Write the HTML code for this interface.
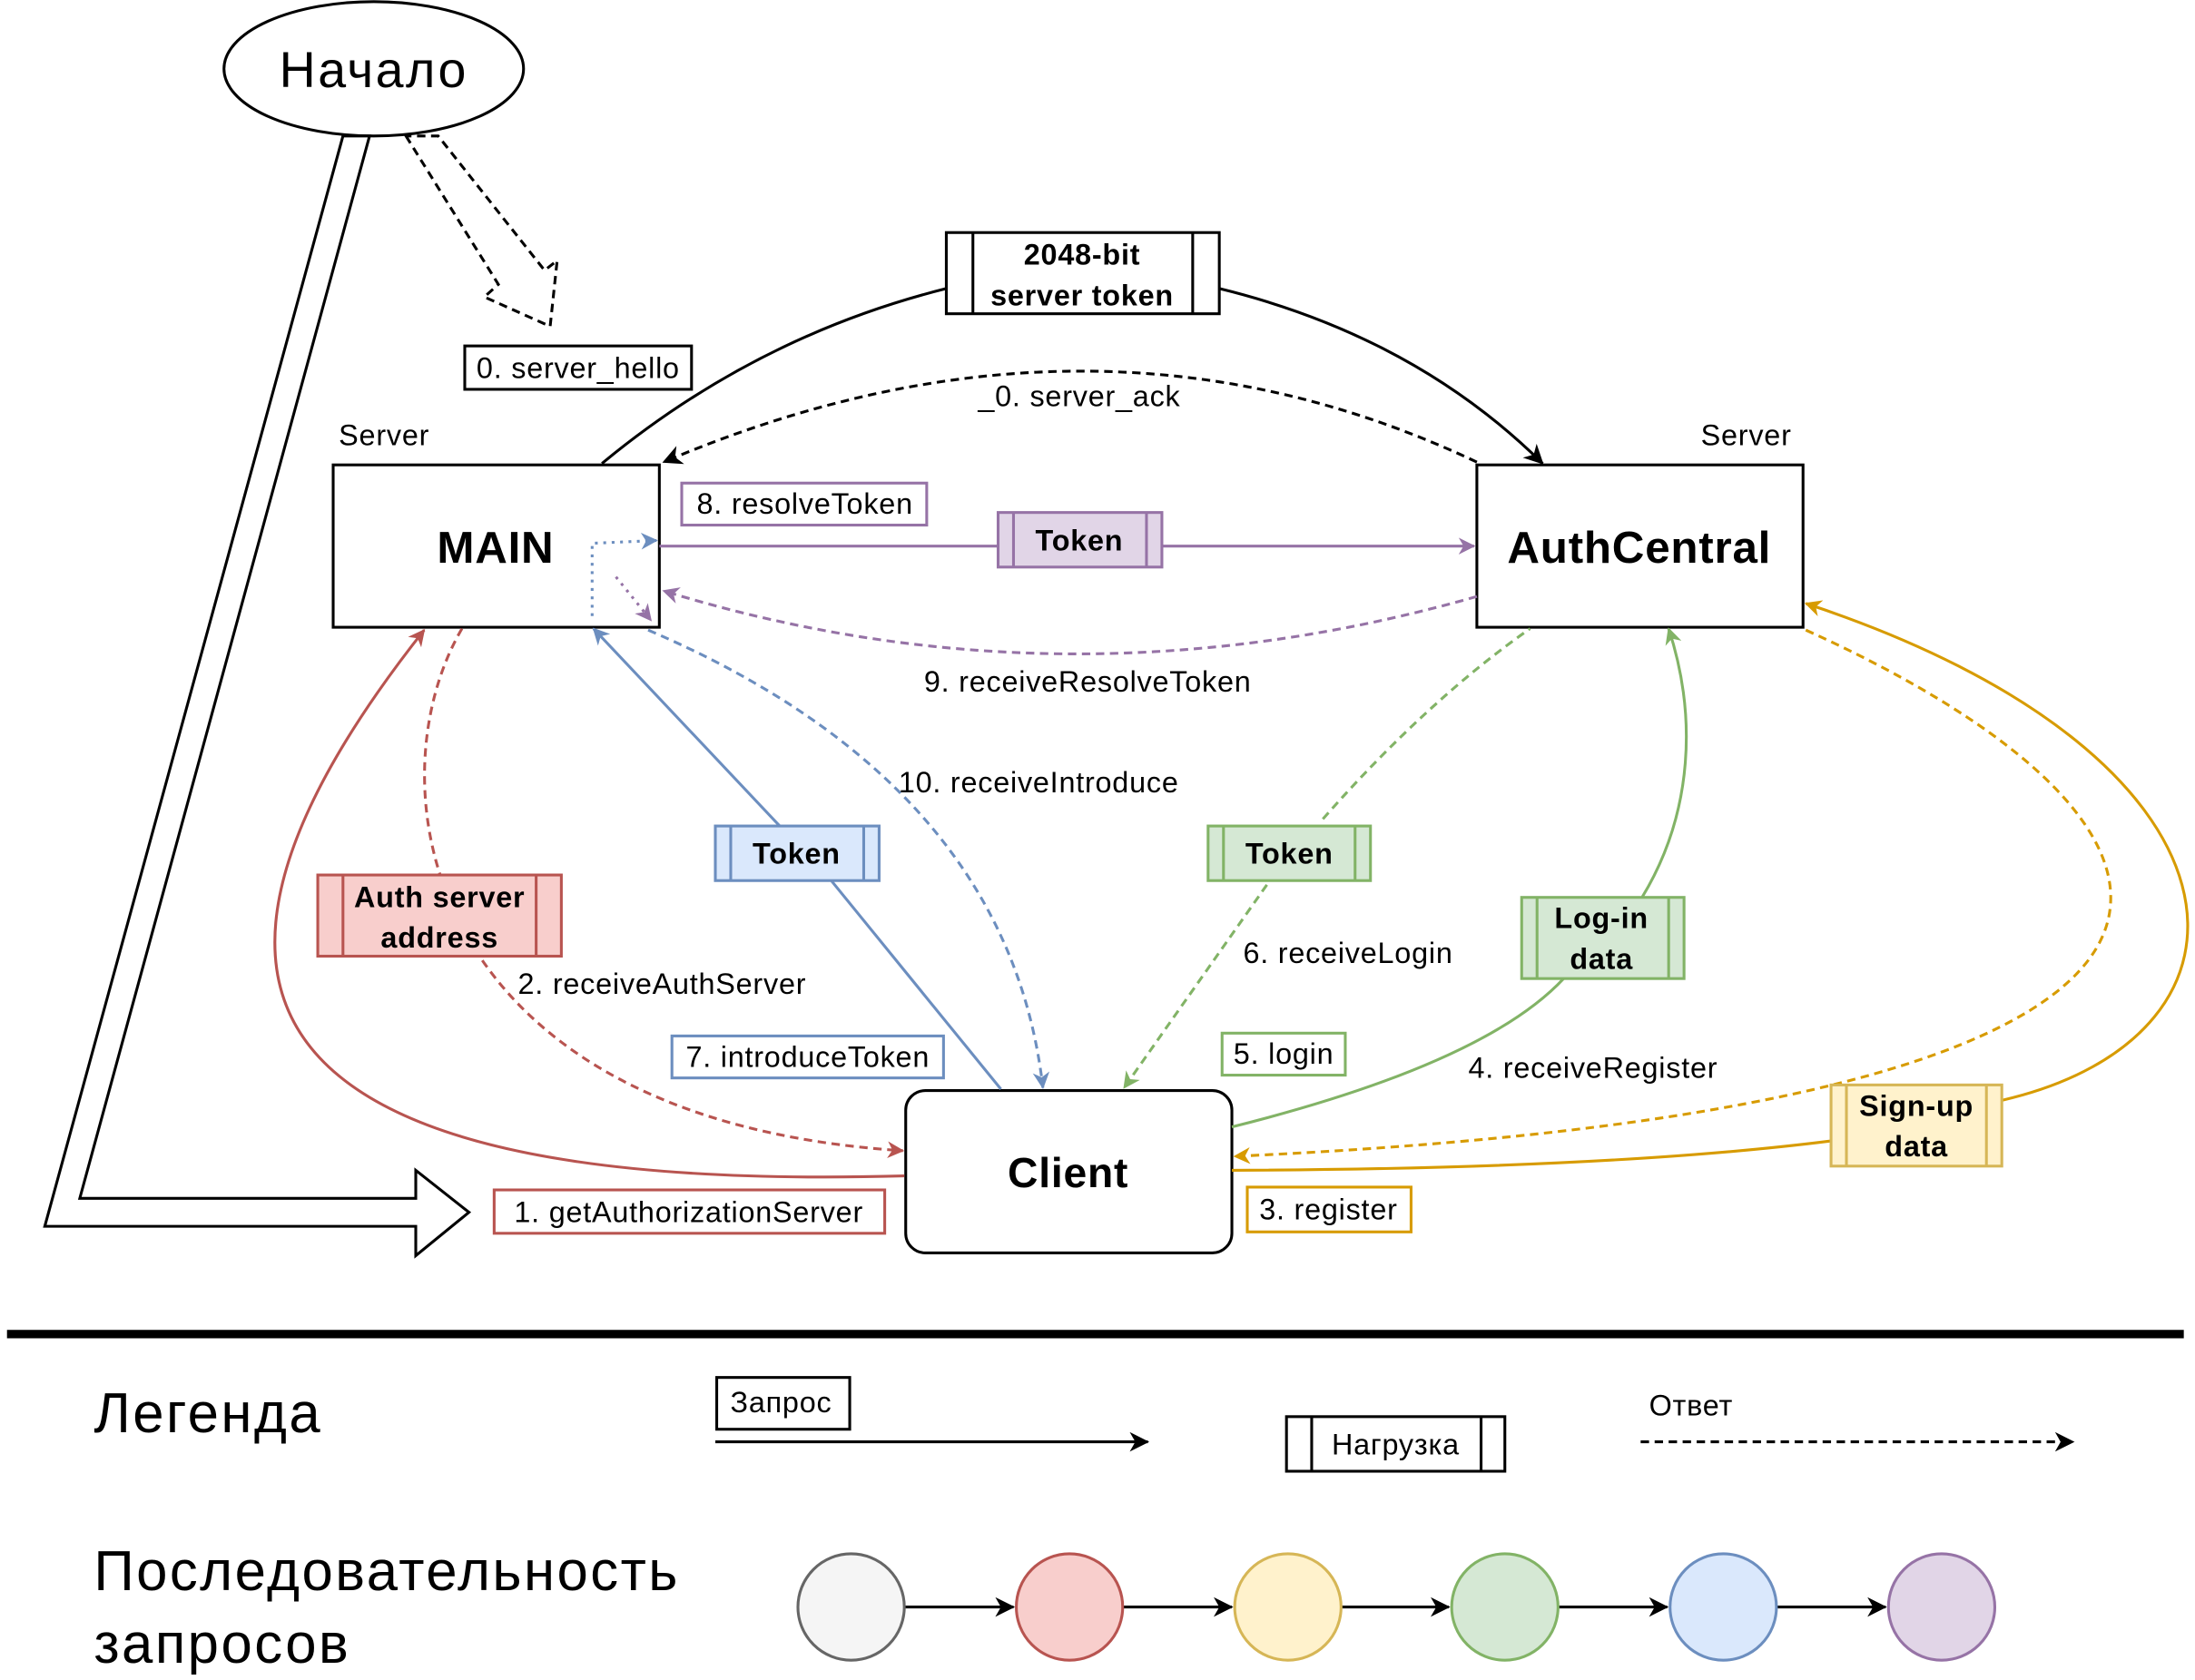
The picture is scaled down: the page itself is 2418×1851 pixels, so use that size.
<!DOCTYPE html>
<html><head><meta charset="utf-8"><style>
html,body{margin:0;padding:0;background:#fff;}
svg{display:block;}
text{font-family:"Liberation Sans",sans-serif;fill:#000;letter-spacing:0.5px;}
text.big{letter-spacing:1.6px;}
</style></head><body>
<svg width="2418" height="1851" viewBox="0 0 1568 1200" xmlns="http://www.w3.org/2000/svg">
<defs>
<marker id="ak" markerWidth="10" markerHeight="10" refX="9" refY="5" orient="auto" markerUnits="userSpaceOnUse"><path d="M0,0 L10,5 L0,10 L3,5z" fill="#000"/></marker>
<marker id="ar" markerWidth="12" markerHeight="12" refX="11" refY="6" orient="auto" markerUnits="userSpaceOnUse"><path d="M0,0 L12,6 L0,12 L3.5,6z" fill="#b85450"/></marker>
<marker id="ay" markerWidth="12" markerHeight="12" refX="11" refY="6" orient="auto" markerUnits="userSpaceOnUse"><path d="M0,0 L12,6 L0,12 L3.5,6z" fill="#d79b00"/></marker>
<marker id="ag" markerWidth="12" markerHeight="12" refX="11" refY="6" orient="auto" markerUnits="userSpaceOnUse"><path d="M0,0 L12,6 L0,12 L3.5,6z" fill="#82b366"/></marker>
<marker id="ab" markerWidth="12" markerHeight="12" refX="11" refY="6" orient="auto" markerUnits="userSpaceOnUse"><path d="M0,0 L12,6 L0,12 L3.5,6z" fill="#6c8ebf"/></marker>
<marker id="ap" markerWidth="12" markerHeight="12" refX="11" refY="6" orient="auto" markerUnits="userSpaceOnUse"><path d="M0,0 L12,6 L0,12 L3.5,6z" fill="#9673a6"/></marker>
<marker id="ak2" markerWidth="14" markerHeight="14" refX="13" refY="7" orient="auto" markerUnits="userSpaceOnUse"><path d="M0,0 L14,7 L0,14 L4,7z" fill="#000"/></marker>
</defs>

<ellipse cx="267" cy="49" rx="107" ry="48" fill="#fff" stroke="#000" stroke-width="2"/>
<text x="267" y="62" font-size="36" text-anchor="middle" class="big">Начало</text>
<polygon points="245,97 32,876 297,876 297,897 335,866 297,836 297,856 57,856 264,97" fill="#fff" stroke="#000" stroke-width="2"/>
<polygon points="290,97 356,203 346,212 393,233 398,186 389,193 313,97" fill="#fff" stroke="#000" stroke-width="2" stroke-dasharray="6,4"/>
<rect x="332" y="247" width="162" height="31" fill="#fff" stroke="#000" stroke-width="2"/>
<text x="413" y="270" font-size="21" text-anchor="middle">0. server_hello</text>

<path d="M430,331 Q540,240 676,206" fill="none" stroke="#000" stroke-width="2"/>
<path d="M871,206 Q1010,240 1102,331" fill="none" stroke="#000" stroke-width="2" marker-end="url(#ak2)"/>
<g>
<rect x="676" y="166" width="195" height="58" fill="#fff" stroke="#000" stroke-width="2"/>
<line x1="695" y1="166" x2="695" y2="224" stroke="#000" stroke-width="2"/><line x1="852" y1="166" x2="852" y2="224" stroke="#000" stroke-width="2"/>
<text x="773" y="189" font-size="21" font-weight="bold" text-anchor="middle">2048-bit</text>
<text x="773" y="218" font-size="21" font-weight="bold" text-anchor="middle">server token</text>
</g>
<path d="M1055,330 Q780,200 474,330" fill="none" stroke="#000" stroke-width="2" stroke-dasharray="6,4" marker-end="url(#ak2)"/>
<text x="771" y="290" font-size="21" text-anchor="middle">_0. server_ack</text>

<text x="242" y="318" font-size="21">Server</text>
<rect x="238" y="332" width="233" height="116" fill="#fff" stroke="#000" stroke-width="2"/>
<text x="354" y="402" font-size="32" font-weight="bold" text-anchor="middle">MAIN</text>
<text x="1215" y="318" font-size="21">Server</text>
<rect x="1055" y="332" width="233" height="116" fill="#fff" stroke="#000" stroke-width="2"/>
<text x="1171" y="402" font-size="32" font-weight="bold" text-anchor="middle">AuthCentral</text>
<rect x="647" y="779" width="233" height="116" rx="14" fill="#fff" stroke="#000" stroke-width="2"/>
<text x="763" y="848" font-size="30" font-weight="bold" text-anchor="middle">Client</text>

<line x1="471" y1="390" x2="1053" y2="390" stroke="#9673a6" stroke-width="2" marker-end="url(#ap)"/>
<rect x="487" y="345" width="175" height="30" fill="#fff" stroke="#9673a6" stroke-width="2"/>
<text x="575" y="367" font-size="21" text-anchor="middle">8. resolveToken</text>
<g>
<rect x="713" y="366" width="117" height="39" fill="#e1d5e7" stroke="#9673a6" stroke-width="2"/>
<line x1="724" y1="366" x2="724" y2="405" stroke="#9673a6" stroke-width="2"/><line x1="819" y1="366" x2="819" y2="405" stroke="#9673a6" stroke-width="2"/>
<text x="771" y="393" font-size="21" font-weight="bold" text-anchor="middle">Token</text></g>
<path d="M1055,426 Q760,510 474,422" fill="none" stroke="#9673a6" stroke-width="2" stroke-dasharray="6,4" marker-end="url(#ap)"/>
<text x="777" y="494" font-size="21" text-anchor="middle">9. receiveResolveToken</text>
<path d="M440,412 L465,443" fill="none" stroke="#9673a6" stroke-width="2" stroke-dasharray="2,4" marker-end="url(#ap)"/>
<path d="M423,440 L423,388 L469,386" fill="none" stroke="#6c8ebf" stroke-width="2" stroke-dasharray="2,4" marker-end="url(#ab)"/>

<path d="M715,778 L593,628" fill="none" stroke="#6c8ebf" stroke-width="2"/>
<path d="M557,590 L424,449" fill="none" stroke="#6c8ebf" stroke-width="2" marker-end="url(#ab)"/>
<g>
<rect x="511" y="590" width="117" height="39" fill="#dae8fc" stroke="#6c8ebf" stroke-width="2"/>
<line x1="522" y1="590" x2="522" y2="629" stroke="#6c8ebf" stroke-width="2"/><line x1="617" y1="590" x2="617" y2="629" stroke="#6c8ebf" stroke-width="2"/>
<text x="569" y="617" font-size="21" font-weight="bold" text-anchor="middle">Token</text></g>
<path d="M463,450 Q720,560 745,777" fill="none" stroke="#6c8ebf" stroke-width="2" stroke-dasharray="6,4" marker-end="url(#ab)"/>
<text x="742" y="566" font-size="21" text-anchor="middle">10. receiveIntroduce</text>
<rect x="480" y="740" width="194" height="30" fill="#fff" stroke="#6c8ebf" stroke-width="2"/>
<text x="577" y="762" font-size="21" text-anchor="middle">7. introduceToken</text>

<path d="M646,840 C280,850 50,770 303,450" fill="none" stroke="#b85450" stroke-width="2" marker-end="url(#ar)"/>
<path d="M330,449 C265,560 300,800 645,822" fill="none" stroke="#b85450" stroke-width="2" stroke-dasharray="6,4" marker-end="url(#ar)"/>
<g>
<rect x="227" y="625" width="174" height="58" fill="#f8cecc" stroke="#b85450" stroke-width="2"/>
<line x1="245" y1="625" x2="245" y2="683" stroke="#b85450" stroke-width="2"/><line x1="383" y1="625" x2="383" y2="683" stroke="#b85450" stroke-width="2"/>
<text x="314" y="648" font-size="21" font-weight="bold" text-anchor="middle">Auth server</text>
<text x="314" y="677" font-size="21" font-weight="bold" text-anchor="middle">address</text></g>
<text x="473" y="710" font-size="21" text-anchor="middle">2. receiveAuthServer</text>
<rect x="353" y="850" width="279" height="31" fill="#fff" stroke="#b85450" stroke-width="2"/>
<text x="492" y="873" font-size="21" text-anchor="middle">1. getAuthorizationServer</text>

<path d="M945,585 Q1020,500 1093,449" fill="none" stroke="#82b366" stroke-width="2" stroke-dasharray="6,4"/>
<path d="M905,632 L803,777" fill="none" stroke="#82b366" stroke-width="2" stroke-dasharray="6,4" marker-end="url(#ag)"/>
<g>
<rect x="863" y="590" width="116" height="39" fill="#d5e8d4" stroke="#82b366" stroke-width="2"/>
<line x1="874" y1="590" x2="874" y2="629" stroke="#82b366" stroke-width="2"/><line x1="968" y1="590" x2="968" y2="629" stroke="#82b366" stroke-width="2"/>
<text x="921" y="617" font-size="21" font-weight="bold" text-anchor="middle">Token</text></g>
<text x="963" y="688" font-size="21" text-anchor="middle">6. receiveLogin</text>
<path d="M880,805 Q1060,760 1117,699" fill="none" stroke="#82b366" stroke-width="2"/>
<path d="M1173,641 C1210,580 1212,510 1192,449" fill="none" stroke="#82b366" stroke-width="2" marker-end="url(#ag)"/>
<g>
<rect x="1087" y="641" width="116" height="58" fill="#d5e8d4" stroke="#82b366" stroke-width="2"/>
<line x1="1098" y1="641" x2="1098" y2="699" stroke="#82b366" stroke-width="2"/><line x1="1192" y1="641" x2="1192" y2="699" stroke="#82b366" stroke-width="2"/>
<text x="1144" y="663" font-size="21" font-weight="bold" text-anchor="middle">Log-in</text>
<text x="1144" y="692" font-size="21" font-weight="bold" text-anchor="middle">data</text></g>
<rect x="873" y="738" width="88" height="30" fill="#fff" stroke="#82b366" stroke-width="2"/>
<text x="917" y="760" font-size="21" text-anchor="middle">5. login</text>
<text x="1138" y="770" font-size="21" text-anchor="middle">4. receiveRegister</text>

<path d="M880,836 Q1150,835 1308,815" fill="none" stroke="#d79b00" stroke-width="2"/>
<path d="M1430,786 C1630,740 1620,540 1290,431" fill="none" stroke="#d79b00" stroke-width="2" marker-end="url(#ay)"/>
<path d="M1290,450 C1600,590 1670,790 882,826" fill="none" stroke="#d79b00" stroke-width="2" stroke-dasharray="6,4" marker-end="url(#ay)"/>
<g>
<rect x="1308" y="775" width="122" height="58" fill="#fff2cc" stroke="#d6b656" stroke-width="2"/>
<line x1="1319" y1="775" x2="1319" y2="833" stroke="#d6b656" stroke-width="2"/><line x1="1419" y1="775" x2="1419" y2="833" stroke="#d6b656" stroke-width="2"/>
<text x="1369" y="797" font-size="21" font-weight="bold" text-anchor="middle">Sign-up</text>
<text x="1369" y="826" font-size="21" font-weight="bold" text-anchor="middle">data</text></g>
<rect x="891" y="848" width="117" height="32" fill="#fff" stroke="#d79b00" stroke-width="2"/>
<text x="949" y="871" font-size="21" text-anchor="middle">3. register</text>

<line x1="5" y1="953" x2="1560" y2="953" stroke="#000" stroke-width="6"/>
<text x="67" y="1023" font-size="40" class="big">Легенда</text>
<rect x="512" y="984" width="95" height="37" fill="#fff" stroke="#000" stroke-width="2"/>
<text x="558" y="1009" font-size="21" text-anchor="middle">Запрос</text>
<line x1="511" y1="1030" x2="820" y2="1030" stroke="#000" stroke-width="2" marker-end="url(#ak2)"/>
<g>
<rect x="919" y="1012" width="156" height="39" fill="#fff" stroke="#000" stroke-width="2"/>
<line x1="937" y1="1012" x2="937" y2="1051" stroke="#000" stroke-width="2"/><line x1="1058" y1="1012" x2="1058" y2="1051" stroke="#000" stroke-width="2"/>
<text x="997" y="1039" font-size="21" text-anchor="middle">Нагрузка</text></g>
<text x="1178" y="1011" font-size="21">Ответ</text>
<line x1="1172" y1="1030" x2="1481" y2="1030" stroke="#000" stroke-width="2" stroke-dasharray="6,4" marker-end="url(#ak2)"/>
<text x="67" y="1136" font-size="40" class="big">Последовательность</text>
<text x="67" y="1188" font-size="40" class="big">запросов</text>
<g>
<line x1="646" y1="1148" x2="724" y2="1148" stroke="#000" stroke-width="2" marker-end="url(#ak2)"/>
<line x1="802" y1="1148" x2="880" y2="1148" stroke="#000" stroke-width="2" marker-end="url(#ak2)"/>
<line x1="958" y1="1148" x2="1035" y2="1148" stroke="#000" stroke-width="2" marker-end="url(#ak2)"/>
<line x1="1113" y1="1148" x2="1191" y2="1148" stroke="#000" stroke-width="2" marker-end="url(#ak2)"/>
<line x1="1269" y1="1148" x2="1347" y2="1148" stroke="#000" stroke-width="2" marker-end="url(#ak2)"/>
<circle cx="608" cy="1148" r="38" fill="#f5f5f5" stroke="#666" stroke-width="2"/>
<circle cx="764" cy="1148" r="38" fill="#f8cecc" stroke="#b85450" stroke-width="2"/>
<circle cx="920" cy="1148" r="38" fill="#fff2cc" stroke="#d6b656" stroke-width="2"/>
<circle cx="1075" cy="1148" r="38" fill="#d5e8d4" stroke="#82b366" stroke-width="2"/>
<circle cx="1231" cy="1148" r="38" fill="#dae8fc" stroke="#6c8ebf" stroke-width="2"/>
<circle cx="1387" cy="1148" r="38" fill="#e1d5e7" stroke="#9673a6" stroke-width="2"/>
</g>
</svg>
</body></html>
